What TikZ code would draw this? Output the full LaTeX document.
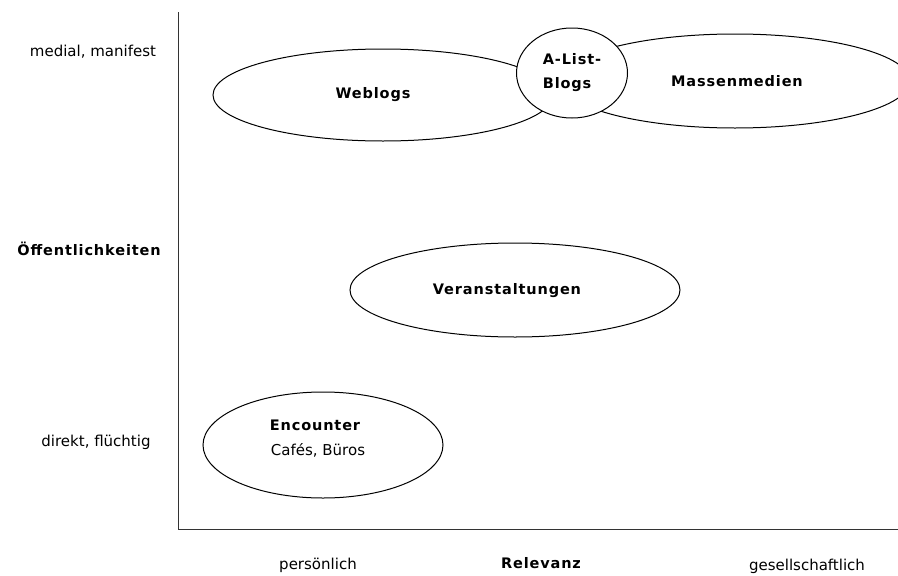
\documentclass[tikz,border=0pt]{standalone}
\usepackage{fontspec}
\setmainfont{DejaVu Sans}[BoldFeatures={LetterSpace=6}]
\usetikzlibrary{shapes.geometric}
\tikzset{
  blob/.style={draw,ellipse,line width=1pt,inner sep=0pt,font=\bfseries\fontsize{14.5}{24}\selectfont},
  blobtext/.style={font=\bfseries\fontsize{14.5}{21}\selectfont},
  axislabel/.style={font=\fontsize{15}{18}\selectfont},
}
\begin{document}
\begin{tikzpicture}[x=1pt,y=-1pt]
  \useasboundingbox (0,0) rectangle (898,576);
  % axes
  \coordinate (ytop) at (178,12);
  \coordinate (orig) at (178,529);
  \coordinate (xend) at (898,529);
  \draw[line width=1pt,black!80] (ytop) -- (orig) -- (xend);
  % areas
  \node[blob,minimum width=340,minimum height=92] (weblogs) at (383,95) {};
  \node[blobtext] at (373,95) {Weblogs};
  \node[blob,minimum width=350,minimum height=94] (massen) at (735,81) {};
  \node[blobtext] at (737,81) {Massenmedien};
  \node[blob,fill=white,minimum width=111,minimum height=90,align=left] (alist) at (572,73) {A-List-\\Blogs};
  \node[blob,minimum width=330,minimum height=94] (events) at (515,290) {};
  \node[blobtext] at (507,291) {Veranstaltungen};
  \node[blob,minimum width=240,minimum height=106] (encounter) at (323,445) {};
  \node[blobtext] at (315,425) {Encounter};
  \node[axislabel] (orte) at (318,450) {Cafés, Büros};
  % axis labels
  \node[axislabel] (medial) at (93,52) {medial, manifest};
  \node[blobtext] (oeff) at (89,249) {Öffentlichkeiten};
  \node[axislabel] (direkt) at (96,442) {direkt, flüchtig};
  \node[axislabel] (pers) at (318,565) {persönlich};
  \node[blobtext] (relevanz) at (541,563) {Relevanz};
  \node[axislabel] (ges) at (807,566) {gesellschaftlich};
\end{tikzpicture}
\end{document}
